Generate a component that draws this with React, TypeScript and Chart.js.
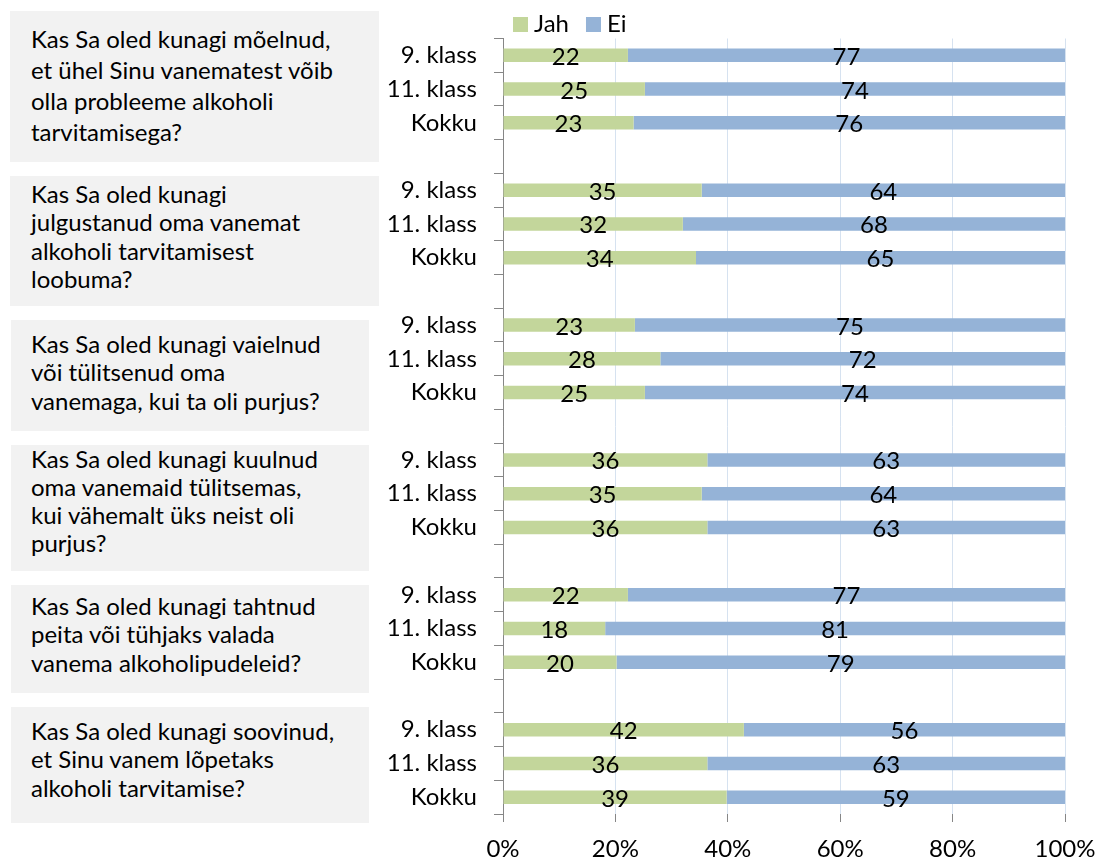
import React, { useEffect, useRef } from "react";
import { Chart, registerables } from "chart.js";

Chart.register(...registerables);

// ---------- data ----------
const GROUP_ROWS = ["9. klass", "11. klass", "Kokku"];

const QUESTIONS = [
  "Kas Sa oled kunagi mõelnud,\net ühel Sinu vanematest võib\nolla probleeme alkoholi\ntarvitamisega?",
  "Kas Sa oled kunagi\njulgustanud oma vanemat\nalkoholi tarvitamisest\nloobuma?",
  "Kas Sa oled kunagi vaielnud\nvõi tülitsenud oma\nvanemaga, kui ta oli purjus?",
  "Kas Sa oled kunagi kuulnud\noma vanemaid tülitsemas,\nkui vähemalt üks neist oli\npurjus?",
  "Kas Sa oled kunagi tahtnud\npeita või tühjaks valada\nvanema alkoholipudeleid?",
  "Kas Sa oled kunagi soovinud,\net Sinu vanem lõpetaks\nalkoholi tarvitamise?",
];

const JAH = [22, 25, 23, 35, 32, 34, 23, 28, 25, 36, 35, 36, 22, 18, 20, 42, 36, 39];
const EI = [77, 74, 76, 64, 68, 65, 75, 72, 74, 63, 64, 63, 77, 81, 79, 56, 63, 59];

const SERIES_NAMES = ["Jah", "Ei"];
const X_TICKS = [0, 20, 40, 60, 80, 100];

// ---------- styles / layout ----------
const COLORS = ["#c3d69b", "#95b3d7"];
const FONT = "Lato";
const BOX_LAYOUT = [
  { left: 10, top: 11, width: 369, height: 151, textTop: 22.5, lineHeight: 31 },
  { left: 10, top: 176, width: 369, height: 130, textTop: 179.5, lineHeight: 28.5 },
  { left: 11, top: 320, width: 358, height: 111, textTop: 329.5, lineHeight: 28.5 },
  { left: 11, top: 445, width: 358, height: 126, textTop: 445, lineHeight: 28 },
  { left: 11, top: 585, width: 358, height: 108, textTop: 591.5, lineHeight: 28.5 },
  { left: 11, top: 707, width: 358, height: 116, textTop: 716.5, lineHeight: 28.5 },
];

// build category rows with a blank slot between question groups
function buildRows() {
  const labels: string[] = [];
  const jahRaw: (number | null)[] = [];
  const eiRaw: (number | null)[] = [];
  const nGroups = QUESTIONS.length;
  for (let g = 0; g < nGroups; g++) {
    for (let r = 0; r < GROUP_ROWS.length; r++) {
      const k = g * GROUP_ROWS.length + r;
      labels.push(GROUP_ROWS[r]);
      jahRaw.push(JAH[k]);
      eiRaw.push(EI[k]);
    }
    if (g < nGroups - 1) {
      labels.push("");
      jahRaw.push(null);
      eiRaw.push(null);
    }
  }
  return { labels, jahRaw, eiRaw };
}

const segLabelPlugin = {
  id: "segLabels",
  afterDatasetsDraw(chart: any) {
    const ctx = chart.ctx;
    ctx.save();
    ctx.font = `24px ${FONT}`;
    ctx.fillStyle = "#000";
    ctx.textAlign = "center";
    ctx.textBaseline = "alphabetic";
    chart.data.datasets.forEach((ds: any, di: number) => {
      const meta = chart.getDatasetMeta(di);
      meta.data.forEach((el: any, i: number) => {
        const v = ds.rawValues[i];
        if (v == null) return;
        const p = el.getProps(["x", "y", "base"], true);
        ctx.fillText(String(v), (p.x + p.base) / 2, p.y + 9.5);
      });
    });
    ctx.restore();
  },
};

const legendPlugin = {
  id: "customLegend",
  afterDraw(chart: any) {
    const ctx = chart.ctx;
    const area = chart.chartArea;
    ctx.save();
    ctx.font = `24px ${FONT}`;
    ctx.fillStyle = "#000";
    ctx.textAlign = "left";
    ctx.textBaseline = "alphabetic";
    let x = area.left + 10;
    const boxTop = area.top - 21.5;
    chart.data.datasets.forEach((ds: any) => {
      ctx.fillStyle = ds.backgroundColor;
      ctx.fillRect(x, boxTop, 15, 15);
      x += 21;
      ctx.fillStyle = "#000";
      ctx.fillText(ds.label, x, boxTop + 15);
      x += ctx.measureText(ds.label).width + 17;
    });
    ctx.restore();
  },
};

export default function App() {
  const ref = useRef<HTMLCanvasElement>(null);

  useEffect(() => {
    document.body.style.margin = "0";
    document.body.style.overflow = "hidden";
    const { labels, jahRaw, eiRaw } = buildRows();
    const pct = (a: number | null, b: number | null, which: 0 | 1) =>
      a == null || b == null ? null : ((which === 0 ? a : b) / (a + b)) * 100;
    const jahPct = jahRaw.map((v, i) => pct(v, eiRaw[i], 0));
    const eiPct = jahRaw.map((v, i) => pct(v, eiRaw[i], 1));

    const chart = new Chart(ref.current!, {
      type: "bar",
      data: {
        labels,
        datasets: [
          { label: SERIES_NAMES[0], data: jahPct, backgroundColor: COLORS[0], rawValues: jahRaw } as any,
          { label: SERIES_NAMES[1], data: eiPct, backgroundColor: COLORS[1], rawValues: eiRaw } as any,
        ],
      },
      options: {
        indexAxis: "y",
        responsive: false,
        animation: false,
        devicePixelRatio: 1,
        layout: { padding: { top: 38.5, right: 31, left: 0, bottom: 0 } },
        datasets: { bar: { barPercentage: 0.4, categoryPercentage: 1 } },
        plugins: { legend: { display: false }, tooltip: { enabled: false } },
        scales: {
          x: {
            stacked: true,
            min: 0,
            max: 100,
            afterBuildTicks: (s: any) => {
              s.ticks = X_TICKS.map((v) => ({ value: v }));
            },
            ticks: {
              callback: (v: any) => `${v}%`,
              font: { family: FONT, size: 24 },
              color: "#000",
              padding: 13,
              maxRotation: 0,
            },
            grid: {
              color: (c: any) => (c.index === 0 ? "#868686" : "#d6e2f0"),
              tickColor: "#868686",
              tickLength: 8,
              lineWidth: 1,
            },
            border: { display: false },
            afterFit: (s: any) => {
              s.height = 43;
              s.paddingLeft = 0;
              s.paddingRight = 0;
            },
          },
          y: {
            stacked: true,
            ticks: {
              font: { family: FONT, size: 24 },
              color: "#000",
              padding: 17,
              autoSkip: false,
            },
            grid: {
              offset: true,
              drawOnChartArea: false,
              drawTicks: true,
              tickLength: 9,
              tickColor: "#868686",
            },
            border: { display: true, color: "#868686", width: 1 },
            afterFit: (s: any) => {
              s.width = 503;
              s.paddingTop = 0;
              s.paddingBottom = 0;
            },
          },
        },
      } as any,
      plugins: [segLabelPlugin, legendPlugin],
    });
    return () => chart.destroy();
  }, []);

  return (
    <div style={{ position: "relative", width: 1096, height: 857, background: "#fff", overflow: "hidden" }}>
      {BOX_LAYOUT.map((b, i) => (
        <div
          key={"box" + i}
          style={{ position: "absolute", left: b.left, top: b.top, width: b.width, height: b.height, background: "#f2f2f2" }}
        />
      ))}
      {BOX_LAYOUT.map((b, i) => (
        <div
          key={"txt" + i}
          style={{
            position: "absolute",
            left: 31,
            top: b.textTop,
            whiteSpace: "pre",
            fontFamily: FONT,
            fontSize: 24,
            lineHeight: `${b.lineHeight}px`,
            color: "#000",
          }}
        >
          {QUESTIONS[i]}
        </div>
      ))}
      <canvas ref={ref} width={1096} height={857} style={{ position: "absolute", left: 0, top: 0 }} />
    </div>
  );
}
